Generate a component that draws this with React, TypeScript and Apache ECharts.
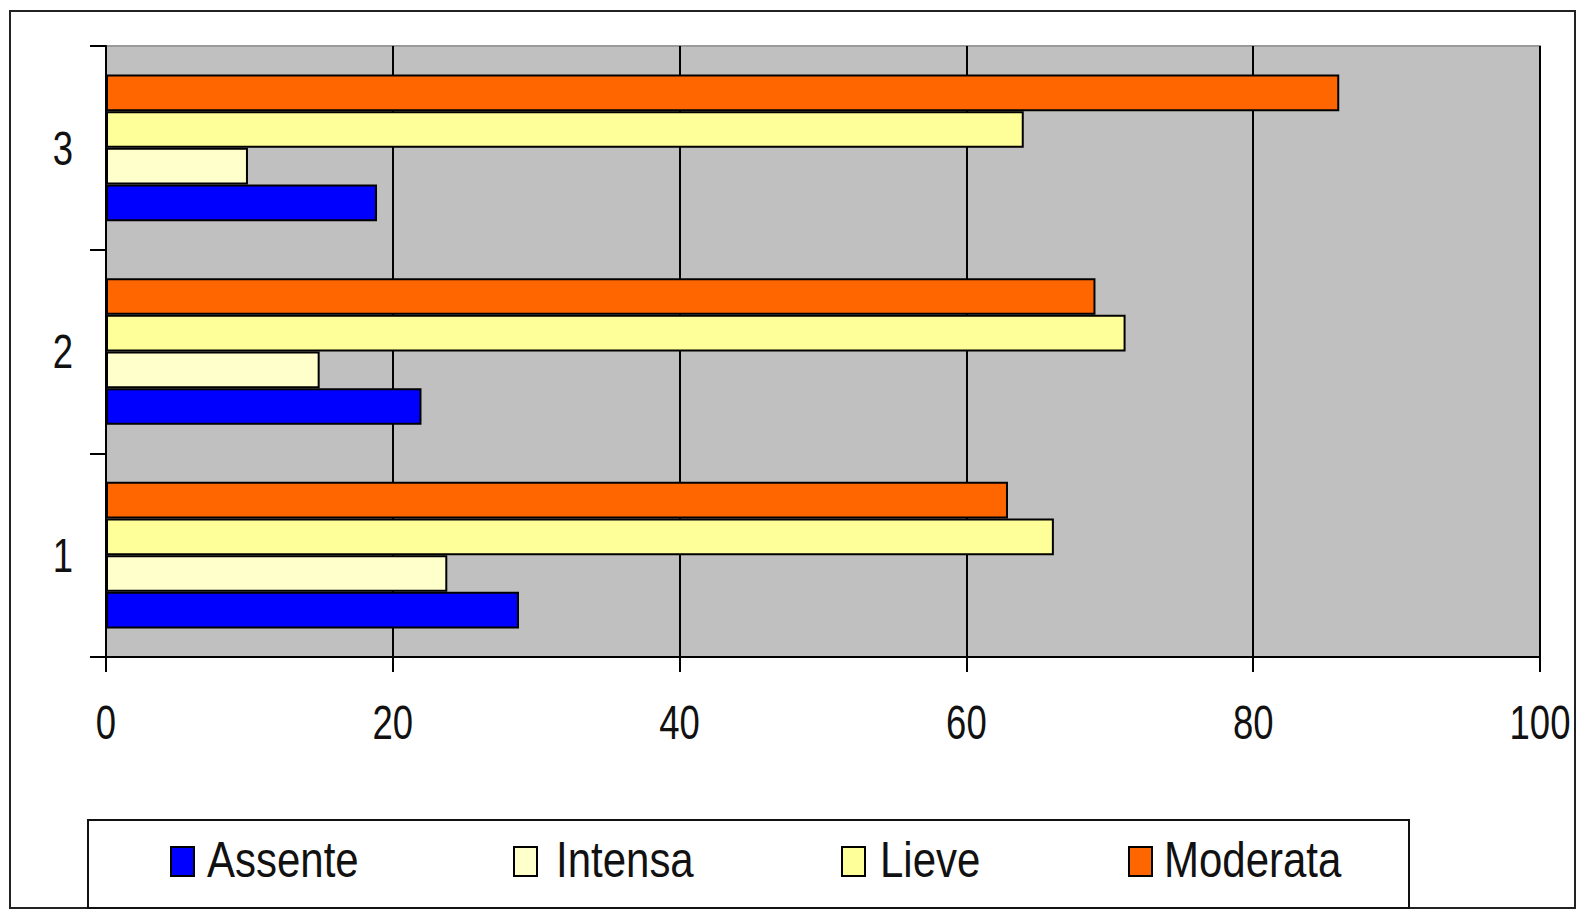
import React, { useEffect, useRef } from "react";
import * as echarts from "echarts";

const categories = ["1", "2", "3"];
const seriesNames = ["Assente", "Intensa", "Lieve", "Moderata"];
const assente = [28.8, 22.0, 18.9];
const intensa = [23.8, 14.9, 9.9];
const lieve = [66.1, 71.1, 64.0];
const moderata = [62.9, 69.0, 86.0];
const seriesColors = ["#0000FF", "#FFFFCC", "#FFFF99", "#FF6600"];
const xTickLabels = [0, 20, 40, 60, 80, 100];
const xTicks = { min: 0, max: 100, interval: 20 };

const FONT = "'Liberation Sans', Arial, sans-serif";
const TEXT_COLOR = "#111";

export default function App() {
  const ref = useRef<HTMLDivElement>(null);

  useEffect(() => {
    if (!ref.current) return;
    const chart = echarts.init(ref.current, undefined, { renderer: "svg" });
    const values = [assente, intensa, lieve, moderata];

    // Bars are stacked top-to-bottom in reverse series order, so the first
    // legend entry (Assente) ends up at the bottom of each category.
    const order = [3, 2, 1, 0];

    chart.setOption({
      animation: false,
      backgroundColor: "#ffffff",
      grid: {
        left: 106,
        top: 46,
        right: 36,
        bottom: 253,
        outerBoundsMode: "none",
        containLabel: false,
        show: true,
        backgroundColor: "#c0c0c0",
        borderColor: "#9a9a9a",
        borderWidth: 2,
      },
      xAxis: {
        type: "value",
        min: xTicks.min,
        max: xTicks.max,
        interval: xTicks.interval,
        axisLine: { show: true, onZero: false, lineStyle: { color: "#000", width: 2 } },
        axisTick: { show: true, length: 15, lineStyle: { color: "#000", width: 2 } },
        splitLine: { show: true, lineStyle: { color: "#000", width: 2 } },
        axisLabel: { show: false },
      },
      yAxis: {
        type: "category",
        data: categories,
        axisLine: { show: true, lineStyle: { color: "#000", width: 2 } },
        axisTick: { show: true, length: 16, lineStyle: { color: "#000", width: 2 } },
        splitLine: { show: false },
        axisLabel: { show: false },
      },
      series: order.map((i) => ({
        name: seriesNames[i],
        type: "bar",
        data: values[i],
        barGap: "0%",
        barCategoryGap: "28%",
        itemStyle: { color: seriesColors[i], borderColor: "#000", borderWidth: 2 },
      })),
    });

    // Condensed tick labels, placed through the axes' own scales.
    const xLabels = xTickLabels.map((v) => {
      const px = chart.convertToPixel({ xAxisIndex: 0 }, v) as number;
      return {
        type: "text",
        x: px,
        y: 722,
        scaleX: 0.76,
        style: {
          text: String(v),
          fill: TEXT_COLOR,
          font: `48px ${FONT}`,
          textAlign: "center",
          textVerticalAlign: "middle",
        },
      };
    });
    const yLabels = categories.map((c) => {
      const py = chart.convertToPixel({ yAxisIndex: 0 }, c) as number;
      return {
        type: "text",
        x: 73,
        y: py,
        scaleX: 0.76,
        style: {
          text: c,
          fill: TEXT_COLOR,
          font: `48px ${FONT}`,
          textAlign: "right",
          textVerticalAlign: "middle",
        },
      };
    });

    // Legend row inside its framed box.
    const legendIcons = [171, 514, 842, 1129];
    const legendTexts = [207, 556, 880, 1164];
    const legendItems = seriesNames.flatMap((name, i) => [
      {
        type: "rect",
        shape: { x: legendIcons[i], y: 847, width: 23, height: 29 },
        style: { fill: seriesColors[i], stroke: "#000", lineWidth: 2 },
      },
      {
        type: "text",
        x: legendTexts[i],
        y: 860,
        scaleX: 0.84,
        style: {
          text: name,
          fill: TEXT_COLOR,
          font: `50px ${FONT}`,
          textAlign: "left",
          textVerticalAlign: "middle",
        },
      },
    ]);

    chart.setOption({
      graphic: [
        {
          type: "rect",
          shape: { x: 10, y: 11, width: 1565, height: 897 },
          style: { fill: "none", stroke: "#222", lineWidth: 2 },
          z: -1,
        },
        {
          type: "rect",
          shape: { x: 88, y: 820, width: 1321, height: 88 },
          style: { fill: "none", stroke: "#111", lineWidth: 2 },
          z: -1,
        },
        ...xLabels,
        ...yLabels,
        ...legendItems,
      ],
    });

    return () => chart.dispose();
  }, []);

  return (
    <div
      ref={ref}
      style={{ position: "absolute", left: 0, top: 0, width: 1576, height: 910 }}
    />
  );
}
